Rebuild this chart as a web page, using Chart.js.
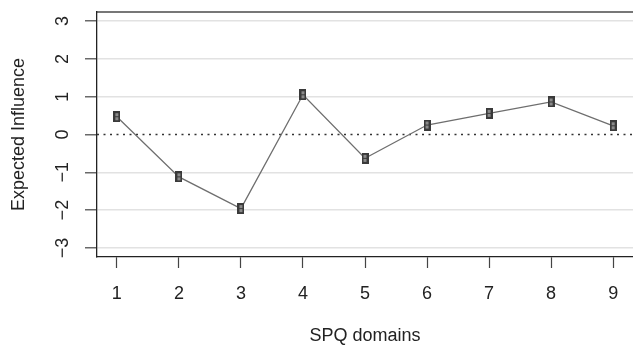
<!DOCTYPE html>
<html>
<head>
<meta charset="utf-8">
<script src="https://cdn.jsdelivr.net/npm/chart.js@4.4.1/dist/chart.umd.min.js"></script>
<style>
  body { margin: 0; background: #fff; }
  #wrap { width: 633px; height: 345px; }
</style>
</head>
<body>
<div id="wrap"><canvas id="chart"></canvas></div>
<script>
// SPQ domains vs expected influence
const domains = [1, 2, 3, 4, 5, 6, 7, 8, 9];
const influence = [0.47, -1.12, -1.96, 1.05, -0.63, 0.25, 0.56, 0.86, 0.23];
const yTicks = [-3, -2, -1, 0, 1, 2, 3];
const xRange = [0.68, 9.32];
const yRange = [-3.24, 3.24];

const FONT = 'Liberation Sans, Arial, Helvetica, sans-serif';

// little box marker like the R plot
const marker = document.createElement('canvas');
marker.width = 7; marker.height = 11;
(function () {
    const c = marker.getContext('2d');
    c.fillStyle = '#3a3a3a';
    c.fillRect(0, 0, 7, 11);
    c.fillStyle = '#8a8a8a';
    c.fillRect(2, 2, 3, 7);
    c.fillStyle = '#3a3a3a';
    c.fillRect(2, 5, 3, 1);
})();

// rotated y tick labels (R style, reading upwards)
const yLabels = {
    id: 'yLabels',
    afterDraw(chart) {
        const ctx = chart.ctx;
        const y = chart.scales.y;
        ctx.save();
        ctx.font = '18px ' + FONT;
        ctx.fillStyle = '#222';
        ctx.textAlign = 'center';
        ctx.textBaseline = 'middle';
        yTicks.forEach(v => {
            const py = y.getPixelForValue(v);
            ctx.save();
            ctx.translate(63, py);
            ctx.rotate(-Math.PI / 2);
            ctx.fillText(v < 0 ? '\u2212' + Math.abs(v) : String(v), 0, 0);
            ctx.restore();
        });
        ctx.restore();
    }
};

function noSidePad(s) {
    s.paddingLeft = 0;
    s.paddingRight = 0;
}

new Chart(document.getElementById('chart'), {
    type: 'line',
    data: {
        datasets: [{
            label: 'zero',
            data: xRange.map(x => ({x: x, y: 0})),
            borderColor: '#333',
            borderWidth: 1.5,
            borderDash: [2, 4.5],
            pointRadius: 0,
            order: 2
        }, {
            label: 'Expected Influence',
            data: domains.map((d, i) => ({x: d, y: influence[i]})),
            borderColor: '#6e6e6e',
            borderWidth: 1.3,
            pointStyle: marker,
            pointRadius: 5,
            tension: 0,
            order: 1
        }]
    },
    options: {
        responsive: true,
        maintainAspectRatio: false,
        animation: false,
        layout: { autoPadding: false, padding: { top: 12, right: -1, left: 0, bottom: 0 } },
        plugins: { legend: { display: false }, tooltip: { enabled: false } },
        scales: {
            x: {
                type: 'linear',
                min: xRange[0],
                max: xRange[1],
                afterBuildTicks: s => { s.ticks = domains.map(v => ({value: v})); },
                afterFit: s => { s.height = 88; noSidePad(s); },
                grid: { drawOnChartArea: false, drawTicks: true, tickLength: 11, tickColor: '#444', tickWidth: 1.2 },
                border: { display: true, color: '#222', width: 1.3 },
                ticks: { padding: 15, color: '#222', font: { family: FONT, size: 18 } },
                title: { display: true, text: 'SPQ domains', color: '#222', font: { family: FONT, size: 18, lineHeight: 1.0 }, padding: 0 }
            },
            x2: {
                type: 'linear',
                position: 'top',
                min: xRange[0],
                max: xRange[1],
                afterFit: s => { s.height = 0; noSidePad(s); },
                grid: { display: false },
                ticks: { display: false },
                border: { display: true, color: '#777', width: 2 }
            },
            y: {
                min: yRange[0],
                max: yRange[1],
                afterBuildTicks: s => { s.ticks = yTicks.map(v => ({value: v})); },
                afterFit: s => { s.width = 97; s.paddingTop = 0; s.paddingBottom = 0; },
                grid: {
                    color: ctx => ctx.tick && ctx.tick.value === 0 ? 'rgba(0,0,0,0)' : '#e2e2e2',
                    lineWidth: 1.6,
                    drawTicks: true,
                    tickLength: 12,
                    tickColor: '#444',
                    tickWidth: 1.2
                },
                border: { display: true, color: '#222', width: 1.3 },
                ticks: { display: false },
                title: { display: true, text: 'Expected Influence', color: '#222', font: { family: FONT, size: 18, lineHeight: 1.0 }, padding: { top: 10, bottom: 0 } }
            }
        }
    },
    plugins: [yLabels]
});
</script>
</body>
</html>
